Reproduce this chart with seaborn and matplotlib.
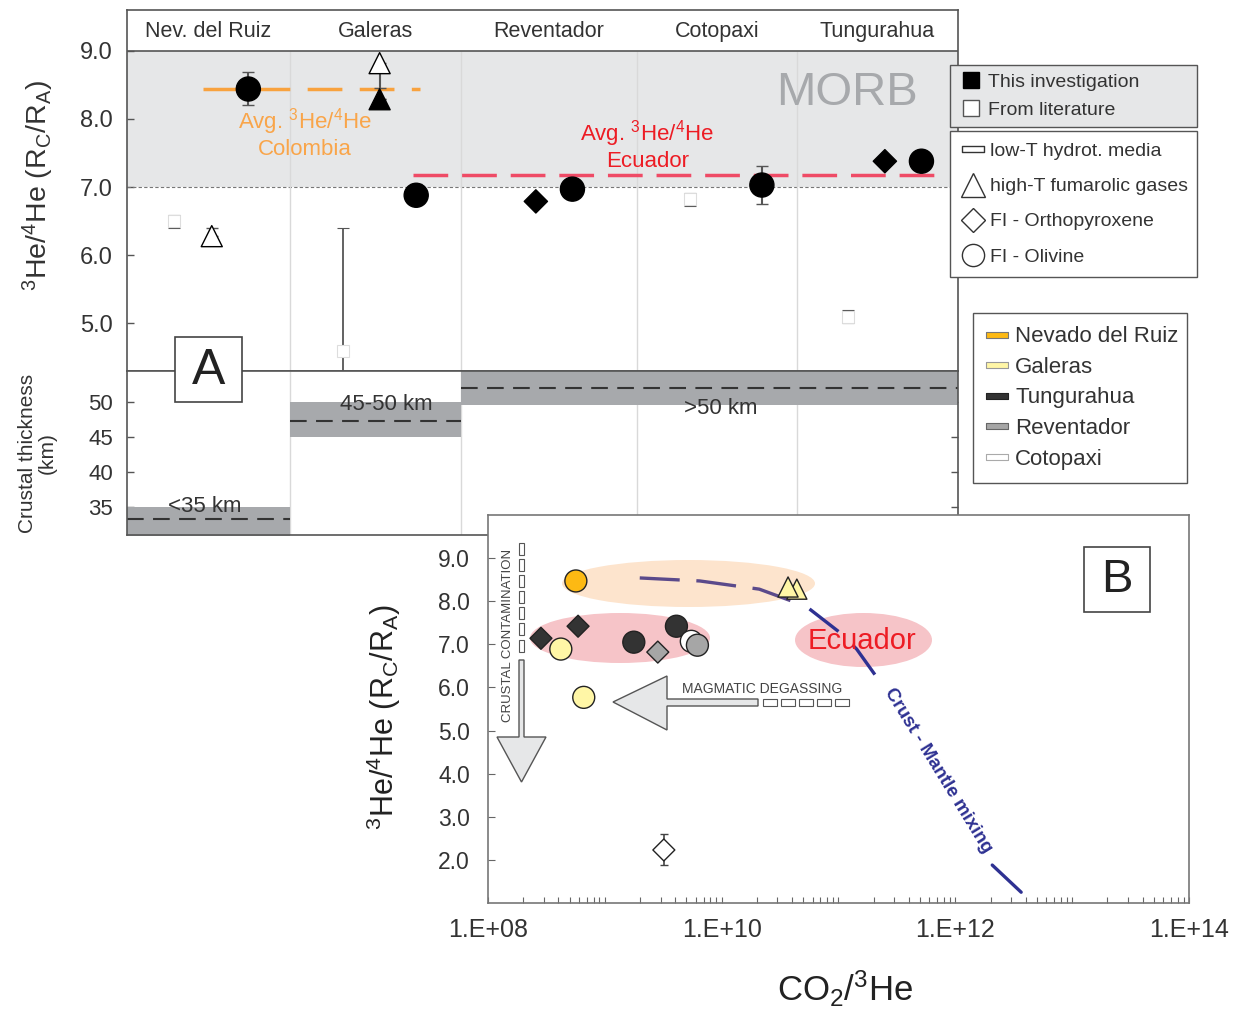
import matplotlib

matplotlib.use("Agg")

import matplotlib.pyplot as plt
import seaborn as sns
import pandas as pd
import numpy as np
from matplotlib.lines import Line2D
from matplotlib.patches import Rectangle, Ellipse, Polygon
from matplotlib.path import Path
from matplotlib.ticker import LogLocator, FuncFormatter, NullFormatter

# ---------------- panel A : 3He/4He along the arc ----------------
volcanoes = ["Nev. del Ruiz", "Galeras", "Reventador", "Cotopaxi", "Tungurahua"]
col_edges = [0.0, 0.98, 2.01, 3.07, 4.03, 5.0]

a_pos = [0.73, 0.51, 1.52, 1.52, 1.74, 2.46, 2.68, 3.82, 4.56, 4.78]
a_ratio = [8.44, 6.28, 8.82, 8.29, 6.88, 6.79, 6.97, 7.03, 7.38, 7.38]
a_err_lo = [0.23, 0.0, 0.36, 0.0, 0.0, 0.0, 0.0, 0.28, 0.0, 0.0]
a_err_hi = [0.25, 0.12, 0.0, 0.0, 0.17, 0.0, 0.0, 0.28, 0.0, 0.0]
a_type = ["FI - Olivine", "high-T fumarolic gases", "high-T fumarolic gases",
          "high-T fumarolic gases", "FI - Olivine", "FI - Orthopyroxene",
          "FI - Olivine", "FI - Olivine", "FI - Orthopyroxene", "FI - Olivine"]
a_source = ["This investigation", "From literature", "From literature",
            "This investigation", "This investigation", "This investigation",
            "This investigation", "This investigation", "This investigation",
            "This investigation"]

# low-T hydrothermal media (literature)
lt_pos = [0.28, 1.30, 3.39, 4.34]
lt_ratio = [6.50, 4.60, 6.82, 5.10]
lt_err_lo = [0.10, 3.00, 0.10, 0.10]
lt_err_hi = [0.09, 1.80, 0.09, 0.09]

avg_colombia = 8.44
avg_colombia_span = [0.46, 1.76]
avg_ecuador = 7.18
avg_ecuador_span = [1.72, 4.89]
morb_range = [7.0, 9.0]

# crustal thickness
crust_labels = ["<35 km", "45-50 km", ">50 km"]
crust_x0 = [0.0, 0.98, 2.01]
crust_x1 = [0.98, 2.01, 5.0]
crust_min = [25.0, 45.0, 49.6]
crust_max = [35.0, 50.0, 60.0]
crust_mid = [33.3, 47.3, 52.0]

# ---------------- panel B : 3He/4He vs CO2/3He ----------------
b_volcano = ["Nevado del Ruiz", "Tungurahua", "Tungurahua", "Galeras", "Galeras",
             "Tungurahua", "Tungurahua", "Reventador", "Cotopaxi", "Reventador",
             "Galeras", "Galeras", "Cotopaxi"]
b_type = ["FI - Olivine", "FI - Orthopyroxene", "FI - Orthopyroxene", "FI - Olivine",
          "FI - Olivine", "FI - Olivine", "FI - Olivine", "FI - Orthopyroxene",
          "FI - Olivine", "FI - Olivine", "high-T fumarolic gases",
          "high-T fumarolic gases", "FI - Orthopyroxene"]
b_co2_he = [5.65e8, 2.84e8, 5.9e8, 4.2e8, 6.6e8, 1.77e9, 4.1e9, 2.84e9, 5.5e9,
            6.2e9, 4.4e10, 3.7e10, 3.2e9]
b_ratio = [8.47, 7.14, 7.42, 6.89, 5.77, 7.05, 7.42, 6.82, 7.07, 6.98, 8.28, 8.33, 2.23]
b_err = [0, 0, 0, 0, 0, 0, 0, 0, 0, 0, 0, 0, 0.36]

# crust - mantle mixing curve
mix_x_upper = [1.99e9, 6.5e9, 2.1e10, 4.2e10]
mix_y_upper = [8.54, 8.47, 8.28, 7.98]
mix_x_mid = [5.65e10, 1.02e11, 1.43e11, 2.24e11]
mix_y_mid = [7.82, 7.28, 6.89, 6.15]
mix_x_low = [2.07e12, 3.66e12]
mix_y_low = [1.88, 1.25]

volcano_colors = {"Nevado del Ruiz": "#fdb913", "Galeras": "#fff6a6",
                  "Tungurahua": "#333333", "Reventador": "#a6a6a6",
                  "Cotopaxi": "#ffffff"}
type_markers = {"FI - Olivine": "o", "FI - Orthopyroxene": "D",
                "high-T fumarolic gases": "^"}

sns.set_theme(style="white")
plt.rcParams['font.family'] = ['Liberation Sans', 'DejaVu Sans']
plt.rcParams['mathtext.fontset'] = 'custom'
plt.rcParams['mathtext.rm'] = 'Liberation Sans'
plt.rcParams['mathtext.it'] = 'Liberation Sans'
plt.rcParams['mathtext.bf'] = 'Liberation Sans:bold'

W, H = 1239, 1014
fig = plt.figure(figsize=(W / 100, H / 100), dpi=100)


def fig_box(l, t, r, b):
    return [l / W, 1 - b / H, (r - l) / W, (b - t) / H]


ax_he = fig.add_axes(fig_box(127, 10, 958, 371))
ax_cr = fig.add_axes(fig_box(127, 371, 958, 535))
ax_b = fig.add_axes(fig_box(488, 515, 1189, 903))

txt = '#333333'
spine_c = '#555555'
he_label = r'$^3$He/$^4$He (R$_\mathrm{C}$/R$_\mathrm{A}$)'

# ===== panel A upper =====
ax_he.set_xlim(0, 5)
ax_he.set_ylim(4.3, 9.6)
ax_he.axhspan(morb_range[0], morb_range[1], color='#e6e7e8', lw=0, zorder=0)
ax_he.axhline(morb_range[0], color='#777777', lw=0.8, ls=(0, (3, 2)), zorder=1)
ax_he.axhline(9.0, color=spine_c, lw=1.2, zorder=2)
ax_he.vlines(col_edges[1:-1], 4.3, 9.0, color='#d9d9d9', lw=1.0, zorder=1)
for i, name in enumerate(volcanoes):
    ax_he.text((col_edges[i] + col_edges[i + 1]) / 2, 9.29, name, ha='center',
               va='center', fontsize=15.5, color=txt)

sns.lineplot(x=avg_colombia_span, y=[avg_colombia] * 2, ax=ax_he, color='#f8a23e',
             lw=2.5, linestyle=(0, (10, 5)), zorder=2)
sns.lineplot(x=avg_ecuador_span, y=[avg_ecuador] * 2, ax=ax_he, color='#ef4b66',
             lw=2.5, linestyle=(0, (10, 4)), zorder=2)
ax_he.text(4.33, 8.38, "MORB", fontsize=34, color='#a7a9ac', ha='center', va='center')
ax_he.text(1.07, 7.79, "Avg. $^3$He/$^4$He\nColombia", fontsize=16, color='#f9a54a',
           ha='center', va='center', linespacing=1.15)
ax_he.text(3.13, 7.62, "Avg. $^3$He/$^4$He\nEcuador", fontsize=16, color='#ed1c24',
           ha='center', va='center', linespacing=1.15)

df_a = pd.DataFrame({"pos": a_pos, "ratio": a_ratio, "type": a_type, "source": a_source})
ax_he.errorbar(a_pos, a_ratio, yerr=[a_err_lo, a_err_hi], fmt='none', ecolor='#555555',
               elinewidth=1.5, capsize=4, zorder=3)
ax_he.errorbar(lt_pos, lt_ratio, yerr=[lt_err_lo, lt_err_hi], fmt='s', ms=8,
               mfc='white', mec='#dddddd', mew=0.8, ecolor='#555555', elinewidth=1.3,
               capsize=4, zorder=3)
sns.scatterplot(data=df_a, x="pos", y="ratio", hue="source", style="type", size="type",
                palette={"This investigation": "black", "From literature": "white"},
                markers=type_markers,
                sizes={"FI - Olivine": 300, "FI - Orthopyroxene": 140,
                       "high-T fumarolic gases": 230},
                edgecolor='black', linewidth=1, legend=False, ax=ax_he, zorder=4)
ax_he.set_xticks([])
ax_he.set_yticks([5, 6, 7, 8, 9])
ax_he.set_yticklabels(["5.0", "6.0", "7.0", "8.0", "9.0"])
ax_he.tick_params(axis='y', direction='in', length=5, width=1, pad=10, labelsize=17,
                  colors=spine_c, labelcolor=txt, left=True)
ax_he.set_xlabel("")
ax_he.set_ylabel(he_label, fontsize=20.5, color=txt)
ax_he.yaxis.set_label_coords(-0.085, 0.515)

# ===== panel A lower: crustal thickness =====
ax_cr.set_xlim(0, 5)
ax_cr.set_ylim(31, 54.4)
ax_cr.vlines(col_edges[1:-1], 31, 54.4, color='#d9d9d9', lw=1.0, zorder=0)
for x0, x1, lo, hi, mid in zip(crust_x0, crust_x1, crust_min, crust_max, crust_mid):
    ax_cr.fill_between([x0, x1], lo, hi, color='#a7a9ac', lw=0, zorder=1)
    ax_cr.hlines(mid, x0, x1, color='#333333', lw=1.5, linestyles=[(0, (8, 4.5))], zorder=2)
ax_cr.text(0.47, 35.1, crust_labels[0], fontsize=16, color=txt, ha='center', va='center')
ax_cr.text(1.56, 49.6, crust_labels[1], fontsize=16, color=txt, ha='center', va='center')
ax_cr.text(3.57, 49.0, crust_labels[2], fontsize=16, color=txt, ha='center', va='center')
ax_cr.set_xticks([])
ax_cr.set_yticks([35, 40, 45, 50])
ax_cr.tick_params(axis='y', direction='in', length=5, width=1, pad=10, labelsize=16,
                  colors=spine_c, labelcolor=txt, left=True, right=True)
ax_cr.set_ylabel("Crustal thickness\n(km)", fontsize=15, color=txt, linespacing=1.1)
ax_cr.yaxis.set_label_coords(-0.084, 0.5)

for a in (ax_he, ax_cr):
    for s in a.spines.values():
        s.set_color(spine_c)
        s.set_linewidth(1.2)

# "A" label box
fig.add_artist(Rectangle((175 / W, 1 - 402 / H), 67 / W, 65 / H, transform=fig.transFigure,
                         facecolor='white', edgecolor='#444444', lw=1.2, zorder=5))
fig.text(208.5 / W, 1 - 371 / H, "A", fontsize=36, color='#222222', ha='center',
         va='center', zorder=6)

# ===== panel B =====
ax_b.set_facecolor('white')
ax_b.set_xscale('log')
ax_b.set_xlim(1e8, 1e14)
ax_b.set_ylim(1, 10)


def bx(px):
    return (px - 488) / 701


def by(py):
    return (903 - py) / 388


ax_b.add_patch(Ellipse((bx(688.5), by(583.5)), 253 / 701, 47 / 388, transform=ax_b.transAxes,
                       facecolor='#fde4cd', edgecolor='none', zorder=1))
ax_b.add_patch(Ellipse((bx(620), by(638)), 180 / 701, 50 / 388, transform=ax_b.transAxes,
                       facecolor='#f6c4c8', edgecolor='none', zorder=1))
ax_b.add_patch(Ellipse((bx(863.5), by(640)), 137 / 701, 54 / 388, transform=ax_b.transAxes,
                       facecolor='#f6c4c8', edgecolor='none', zorder=1))

sns.lineplot(x=mix_x_upper, y=mix_y_upper, ax=ax_b, sort=False, color='#5b4a8b', lw=2.4,
             linestyle=(0, (12, 5)), zorder=2)
sns.lineplot(x=mix_x_mid, y=mix_y_mid, ax=ax_b, sort=False, color='#2e3192', lw=2.4,
             linestyle=(0, (11, 6)), zorder=2)
sns.lineplot(x=mix_x_low, y=mix_y_low, ax=ax_b, sort=False, color='#2e3192', lw=2.4,
             zorder=2)

# process arrows
arrow_kw = dict(transform=ax_b.transAxes, facecolor='#e6e7e8', edgecolor='#555555',
                lw=1.0, zorder=2)
crust_arrow = [(519, 660), (524, 660), (524, 737), (546, 737), (521.5, 782), (497, 737),
               (519, 737)]
ax_b.add_patch(Polygon([(bx(x), by(y)) for x, y in crust_arrow], closed=True, **arrow_kw))
for y0, y1 in [(543, 555), (559, 571), (575, 587), (591, 603), (607, 619), (623, 635),
               (640, 652)]:
    ax_b.add_patch(Rectangle((bx(519), by(y1)), 5 / 701, (y1 - y0) / 388,
                             transform=ax_b.transAxes, facecolor='white',
                             edgecolor='#555555', lw=0.8, zorder=2))
degas_arrow = [(613, 702), (667, 676), (667, 699), (758, 699), (758, 706), (667, 706),
               (667, 730)]
ax_b.add_patch(Polygon([(bx(x), by(y)) for x, y in degas_arrow], closed=True, **arrow_kw))
for x0 in [763, 781, 799, 817, 835]:
    ax_b.add_patch(Rectangle((bx(x0), by(706)), 14 / 701, 7 / 388,
                             transform=ax_b.transAxes, facecolor='white',
                             edgecolor='#555555', lw=0.8, zorder=2))
ax_b.text(bx(508), by(635), "CRUSTAL CONTAMINATION", rotation=90, fontsize=9.5,
          color='#444444', ha='center', va='center', transform=ax_b.transAxes)
ax_b.text(bx(762), by(689), "MAGMATIC DEGASSING", fontsize=10, color='#444444',
          ha='center', va='center', transform=ax_b.transAxes)
ax_b.text(bx(862), by(641), "Ecuador", fontsize=21, color='#ed1c24', ha='center',
          va='center', transform=ax_b.transAxes, zorder=3)
ax_b.text(bx(938), by(771), "Crust - Mantle mixing", fontsize=13.5, fontweight='bold',
          color='#2e3192', rotation=-58.4, rotation_mode='anchor', ha='center',
          va='center', transform=ax_b.transAxes, zorder=3)

df_b = pd.DataFrame({"co2_he": b_co2_he, "ratio": b_ratio, "volcano": b_volcano,
                     "type": b_type})
ax_b.errorbar(b_co2_he, b_ratio, yerr=b_err, fmt='none', ecolor='#444444', elinewidth=1.2,
              capsize=3, zorder=3)
sns.scatterplot(data=df_b, x="co2_he", y="ratio", hue="volcano", style="type", size="type",
                palette=volcano_colors, markers=type_markers,
                sizes={"FI - Olivine": 250, "FI - Orthopyroxene": 125,
                       "high-T fumarolic gases": 210},
                edgecolor='#222222', linewidth=1, legend=False, ax=ax_b, zorder=4)

# "B" label box
ax_b.add_patch(Rectangle((bx(1084), by(612)), 66 / 701, 65 / 388, transform=ax_b.transAxes,
                         facecolor='white', edgecolor='#444444', lw=1.2, zorder=5))
ax_b.text(bx(1117), by(579.5), "B", fontsize=34, color='#222222', ha='center', va='center',
          transform=ax_b.transAxes, zorder=6)

ax_b.xaxis.set_major_locator(LogLocator(base=10, numticks=10))
ax_b.xaxis.set_minor_locator(LogLocator(base=10, subs=np.arange(2, 10), numticks=100))
ax_b.xaxis.set_minor_formatter(NullFormatter())
ax_b.xaxis.set_major_formatter(FuncFormatter(
    lambda v, p: f"1.E+{int(round(np.log10(v))):02d}" if int(round(np.log10(v))) % 2 == 0 else ""))
ax_b.set_yticks([2, 3, 4, 5, 6, 7, 8, 9])
ax_b.set_yticklabels(["2.0", "3.0", "4.0", "5.0", "6.0", "7.0", "8.0", "9.0"])
ax_b.tick_params(axis='x', which='both', direction='in', length=4, width=0.8, pad=11,
                 labelsize=18, colors='#666666', labelcolor=txt, bottom=True)
ax_b.tick_params(axis='y', direction='in', length=5, width=0.8, pad=13, labelsize=16.5,
                 colors='#666666', labelcolor=txt, left=True)
ax_b.set_xlabel(r'CO$_2$/$^3$He', fontsize=25, color='#222222')
ax_b.xaxis.set_label_coords(0.51, -0.17)
ax_b.set_ylabel(he_label, fontsize=22, color='#222222')
ax_b.yaxis.set_label_coords(-0.121, 0.479)
for s in ax_b.spines.values():
    s.set_color('#777777')
    s.set_linewidth(1.2)

# ===== legends =====
rect_marker = Path([(-1, -0.28), (1, -0.28), (1, 0.28), (-1, 0.28), (-1, -0.28)],
                   [Path.MOVETO, Path.LINETO, Path.LINETO, Path.LINETO, Path.CLOSEPOLY])

leg_kw = dict(loc='upper left', mode='expand', frameon=True, fancybox=False, framealpha=1,
              borderaxespad=0, labelcolor=txt)

src_handles = [Line2D([], [], ls='', marker='s', ms=11, mfc='black', mec='black'),
               Line2D([], [], ls='', marker='s', ms=11, mfc='white', mec='#555555')]
leg1 = fig.legend(src_handles, ["This investigation", "From literature"],
                  bbox_to_anchor=(950 / W, 1 - 127 / H, 247 / W, 62 / H),
                  facecolor='#e6e7e8', edgecolor='#555555', fontsize=14,
                  handlelength=1.3, handletextpad=0.25, borderpad=0.42,
                  labelspacing=0.55, **leg_kw)

type_handles = [Line2D([], [], ls='', marker=rect_marker, ms=16, mfc='white', mec='#333333'),
                Line2D([], [], ls='', marker='^', ms=17, mfc='white', mec='#333333'),
                Line2D([], [], ls='', marker='D', ms=12, mfc='white', mec='#333333'),
                Line2D([], [], ls='', marker='o', ms=16, mfc='white', mec='#333333')]
leg2 = fig.legend(type_handles, ["low-T hydrot. media", "high-T fumarolic gases",
                                 "FI - Orthopyroxene", "FI - Olivine"],
                  bbox_to_anchor=(950 / W, 1 - 277 / H, 247 / W, 146 / H),
                  facecolor='white', edgecolor='#555555', fontsize=14,
                  handlelength=1.2, handletextpad=0.25, borderpad=0.6,
                  labelspacing=0.9, **leg_kw)

volc_order = ["Nevado del Ruiz", "Galeras", "Tungurahua", "Reventador", "Cotopaxi"]
volc_edges = ['#777777', '#999999', '#222222', '#666666', '#aaaaaa']
volc_handles = [Line2D([], [], ls='', marker=rect_marker, ms=16, mfc=volcano_colors[v],
                       mec=e, mew=0.8) for v, e in zip(volc_order, volc_edges)]
leg3 = fig.legend(volc_handles, volc_order,
                  bbox_to_anchor=(973 / W, 1 - 482 / H, 214 / W, 169 / H),
                  facecolor='white', edgecolor='#555555', fontsize=16,
                  handlelength=1.0, handletextpad=0.3, borderpad=0.6,
                  labelspacing=0.43, **leg_kw)

fig.savefig("out.png", dpi=100, facecolor='white')
